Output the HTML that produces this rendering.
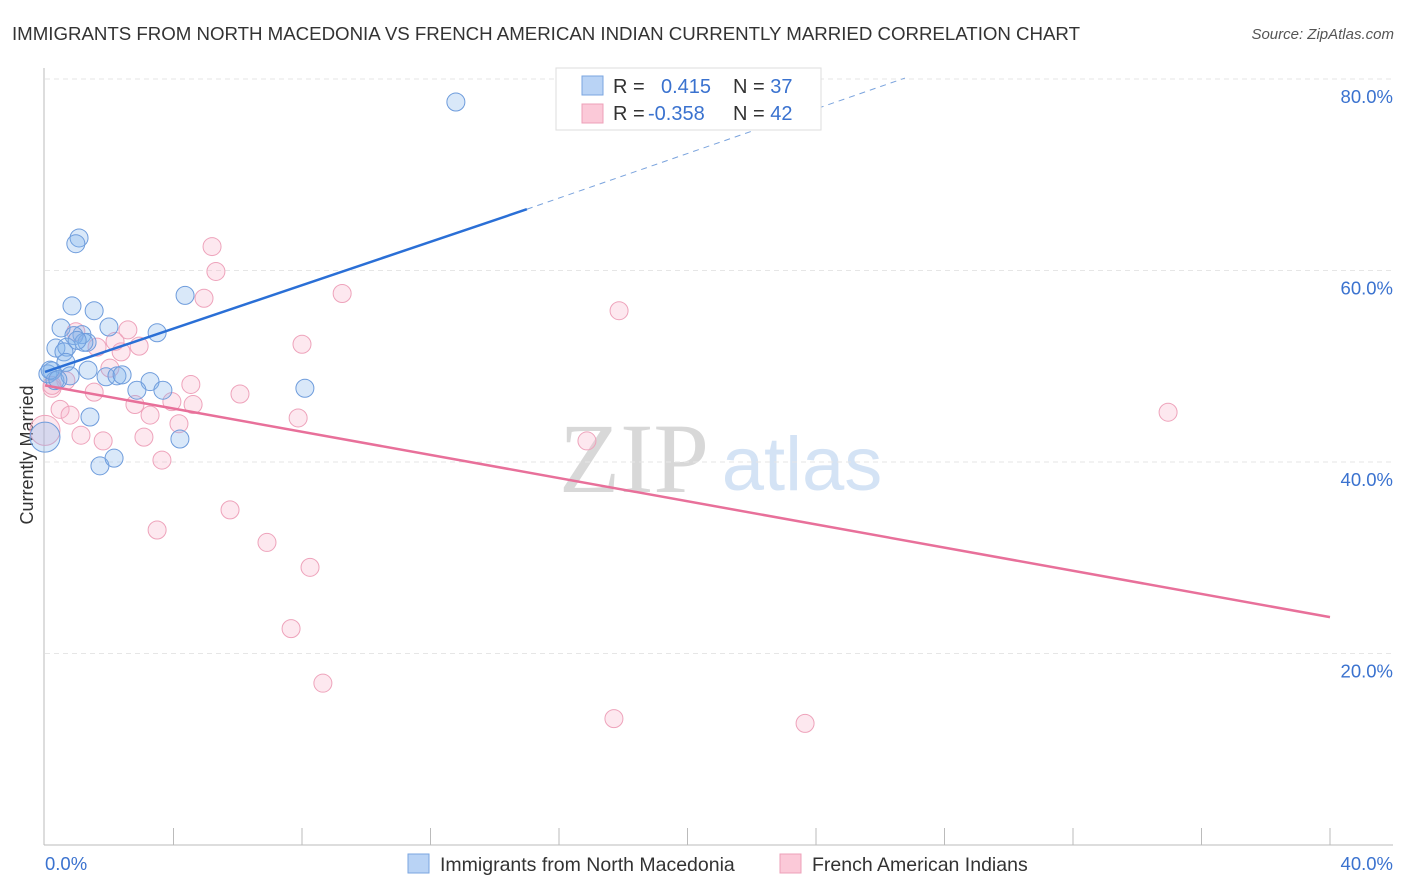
<!DOCTYPE html>
<html><head><meta charset="utf-8">
<style>
body{margin:0;background:#fff;font-family:"Liberation Sans",sans-serif;}
#wrap{position:relative;width:1406px;height:892px;overflow:hidden;}
</style></head>
<body>
<div id="wrap">
<svg id="svg" width="1406" height="892" xmlns="http://www.w3.org/2000/svg">
<text x="12" y="40" font-size="18.7" fill="#333" textLength="1068">IMMIGRANTS FROM NORTH MACEDONIA VS FRENCH AMERICAN INDIAN CURRENTLY MARRIED CORRELATION CHART</text>
<text x="1394" y="39" font-size="15" fill="#555" font-style="italic" text-anchor="end">Source: ZipAtlas.com</text>
<text transform="translate(33,455) rotate(-90)" font-size="18" fill="#333" text-anchor="middle">Currently Married</text>
<g>
<text x="634" y="492" font-size="100" font-family="Liberation Serif,serif" fill="#d8d8d8" text-anchor="middle">ZIP</text>
<text x="802" y="490" font-size="76" fill="#d4e3f5" text-anchor="middle">atlas</text>
</g>
<g id="grid"></g>
<g id="axes"></g>
<g id="pts"></g>
<g id="lines"></g>
<g>
<rect x="556" y="68" width="265" height="62" fill="#fff" stroke="#ddd"/>
<rect x="582" y="76" width="21" height="19" fill="#b9d3f5" stroke="#7aa6e0"/>
<rect x="582" y="104" width="21" height="19" fill="#fbc9d8" stroke="#eea0b8"/>
<text x="613" y="93" font-size="20" fill="#333">R = <tspan x="661" fill="#3a72cf">0.415</tspan></text>
<text x="733" y="93" font-size="20" fill="#333">N = <tspan fill="#3a72cf">37</tspan></text>
<text x="613" y="120" font-size="20" fill="#333">R = <tspan x="648" fill="#3a72cf">-0.358</tspan></text>
<text x="733" y="120" font-size="20" fill="#333">N = <tspan fill="#3a72cf">42</tspan></text>
</g>
<g>
<rect x="408" y="854" width="21" height="19" fill="#b9d3f5" stroke="#7aa6e0"/>
<text x="440" y="871" font-size="19.5" fill="#333">Immigrants from North Macedonia</text>
<rect x="780" y="854" width="21" height="19" fill="#fbc9d8" stroke="#eea0b8"/>
<text x="812" y="871" font-size="19.5" fill="#333">French American Indians</text>
</g>
</svg>
</div>
<script>
const yTicks=[20,40,60,80];
const yTickLabels=["20.0%","40.0%","60.0%","80.0%"];
const xTickCount=10;
const blueX=[12.79,1.06,0.96,0.84,1.53,4.36,0.50,1.99,3.49,1.15,0.90,1.31,0.34,0.68,0.59,0.65,1.34,0.22,0.09,1.90,2.24,2.40,3.27,0.31,0.78,2.86,3.67,8.09,1.40,4.20,1.71,2.15,0.0,1.21,0.16,0.40,1.0];
const blueY=[77.6,63.4,62.8,56.3,55.8,57.4,54.0,54.1,53.5,53.3,53.2,52.5,51.9,52.0,51.5,50.4,49.6,49.5,49.2,48.9,49.0,49.1,48.4,48.5,49.0,47.5,47.5,47.7,44.7,42.4,39.6,40.4,42.6,52.5,49.6,48.6,52.7];
const pinkX=[5.20,5.32,4.95,9.25,17.87,2.58,0.96,8.00,2.18,2.93,1.62,2.37,2.02,4.54,0.65,0.22,1.53,6.07,3.95,2.80,4.61,0.47,3.27,7.88,0.78,4.17,1.12,3.08,1.81,16.87,3.64,0.0,5.76,3.49,6.91,8.25,7.66,8.65,17.71,23.66,34.96,0.22];
const pinkY=[62.5,59.9,57.1,57.6,55.8,53.8,53.6,52.3,52.6,52.1,52.0,51.5,49.8,48.1,48.5,47.7,47.3,47.1,46.3,46.0,46.0,45.5,44.9,44.6,44.9,44.0,42.8,42.6,42.2,42.2,40.2,43.3,35.0,32.9,31.6,29.0,22.6,16.9,13.2,12.7,45.2,48.0];
const blueTrend=[[0,49.4],[15.0,66.4],[26.77,80.1]];
const pinkTrend=[[0,48.0],[40,23.8]];
const NS="http://www.w3.org/2000/svg";
const X=v=>45+v*32.125, Y=v=>845-v*9.575;
function mk(t,a,p){const e=document.createElementNS(NS,t);for(const k in a)e.setAttribute(k,a[k]);p.appendChild(e);return e;}
const grid=document.getElementById('grid'),axes=document.getElementById('axes'),pts=document.getElementById('pts'),lines=document.getElementById('lines');
yTicks.forEach((t,i)=>{
 const l=mk('line',{x1:45,x2:1393,y1:Y(t),y2:Y(t),stroke:'#e6e6e6','stroke-dasharray':'5,4'},grid);
 
 
 const tx=mk('text',{x:1393,y:Y(t)+24,'font-size':18.5,fill:'#3a72cf','text-anchor':'end'},axes);
 tx.textContent=yTickLabels[i];
 
 
});
let a=mk('line',{x1:44,x2:44,y1:68,y2:845,stroke:'#bbb'},axes);


a=mk('line',{x1:44,x2:1393,y1:845,y2:845,stroke:'#bbb'},axes);


for(let i=1;i<=xTickCount;i++){
 const t=mk('line',{x1:X(i*4),x2:X(i*4),y1:828,y2:845,stroke:'#bbb'},axes);
 
 
}
let xl=mk('text',{x:45,y:870,'font-size':18.5,fill:'#3a72cf'},axes);xl.textContent='0.0%';


xl=mk('text',{x:1393,y:870,'font-size':18.5,fill:'#3a72cf','text-anchor':'end'},axes);xl.textContent='40.0%';


function drawPts(xs,ys,fill,stroke,name){
 xs.forEach((x,i)=>{
  const big=x===0;
  const c=mk('circle',{cx:X(x),cy:Y(ys[i]),r:big?15:9,fill:fill,stroke:stroke,'stroke-width':1},pts);
  
  
 });
}
drawPts(pinkX,pinkY,'rgba(248,180,202,0.3)','#eea3bb','pink-point');
drawPts(blueX,blueY,'rgba(130,178,236,0.3)','#6e9cdc','blue-point');
let ln=mk('line',{x1:X(blueTrend[0][0]),y1:Y(blueTrend[0][1]),x2:X(blueTrend[1][0]),y2:Y(blueTrend[1][1]),stroke:'#2a6fd6','stroke-width':2.5},lines);


ln=mk('line',{x1:X(blueTrend[1][0]),y1:Y(blueTrend[1][1]),x2:X(blueTrend[2][0]),y2:Y(blueTrend[2][1]),stroke:'#7aa3dd','stroke-width':1,'stroke-dasharray':'6,5'},lines);


ln=mk('line',{x1:X(pinkTrend[0][0]),y1:Y(pinkTrend[0][1]),x2:X(pinkTrend[1][0]),y2:Y(pinkTrend[1][1]),stroke:'#e8709a','stroke-width':2.5},lines);


</script>
</body></html>
